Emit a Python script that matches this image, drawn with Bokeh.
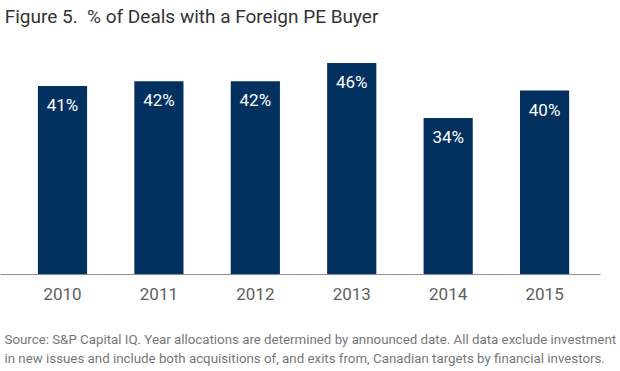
from bokeh.plotting import figure
from bokeh.models import Range1d, Title, ColumnDataSource, FixedTicker, LabelSet, Label
from bokeh.core.properties import value
from bokeh.embed import file_html
from bokeh.resources import INLINE

years = ["2010", "2011", "2012", "2013", "2014", "2015"]
values = [41, 42, 42, 46, 34, 40]
labels = [f"{v}%" for v in values]
xpos = list(range(len(years)))

title_text = "Figure 5.\u00a0\u00a0% of Deals with a Foreign PE Buyer"
source_1 = "Source: S&P Capital IQ. Year allocations are determined by announced date. All data exclude investment"
source_2 = "in new issues and include both acquisitions of, and exits from, Canadian targets by financial investors."

FONT = "Roboto"

src = ColumnDataSource(dict(x=xpos, top=values, lab=labels))

p = figure(width=620, height=371, output_backend="svg", toolbar_location=None,
           x_range=Range1d(-0.643, 5.58), y_range=Range1d(0, 59.57),
           min_border_left=0, min_border_right=20, min_border_top=0, min_border_bottom=97)

p.vbar(x="x", top="top", width=0.51, source=src, color="#03315f", line_color=None)

p.add_layout(LabelSet(x="x", y="top", text="lab", source=src, text_color="white",
                      text_font=value(FONT), text_font_size="17px", text_align="center",
                      text_baseline="middle", y_offset=-19))

p.add_layout(Label(x=-0.60, y=56.09, text=title_text,
                   text_font=FONT, text_font_size="19px", text_color="#333333",
                   text_align="left", text_baseline="middle"))

p.xaxis.ticker = FixedTicker(ticks=xpos)
p.xaxis.major_label_overrides = {i: y for i, y in zip(xpos, years)}
p.xaxis.major_label_text_font = FONT
p.xaxis.major_label_text_font_size = "17px"
p.xaxis.major_label_text_color = "#606060"
p.xaxis.major_label_standoff = 7
p.xaxis.major_tick_line_color = None
p.xaxis.minor_tick_line_color = None
p.xaxis.axis_line_color = "#8c8c8c"
p.xaxis.axis_line_width = 1
p.yaxis.visible = False
p.xgrid.grid_line_color = None
p.ygrid.grid_line_color = None
p.outline_line_color = None

t1 = Title(text=source_1, text_font=FONT, text_font_size="13.3px", text_font_style="normal",
           text_color="#777777", offset=4, standoff=0)
t2 = Title(text=source_2, text_font=FONT, text_font_size="13.3px", text_font_style="normal",
           text_color="#777777", offset=4, standoff=4)
p.add_layout(Title(text=" ", text_font_size="22px", standoff=0), "below")
p.add_layout(t1, "below")
p.add_layout(t2, "below")

open("out.html", "w").write(file_html(p, INLINE))
